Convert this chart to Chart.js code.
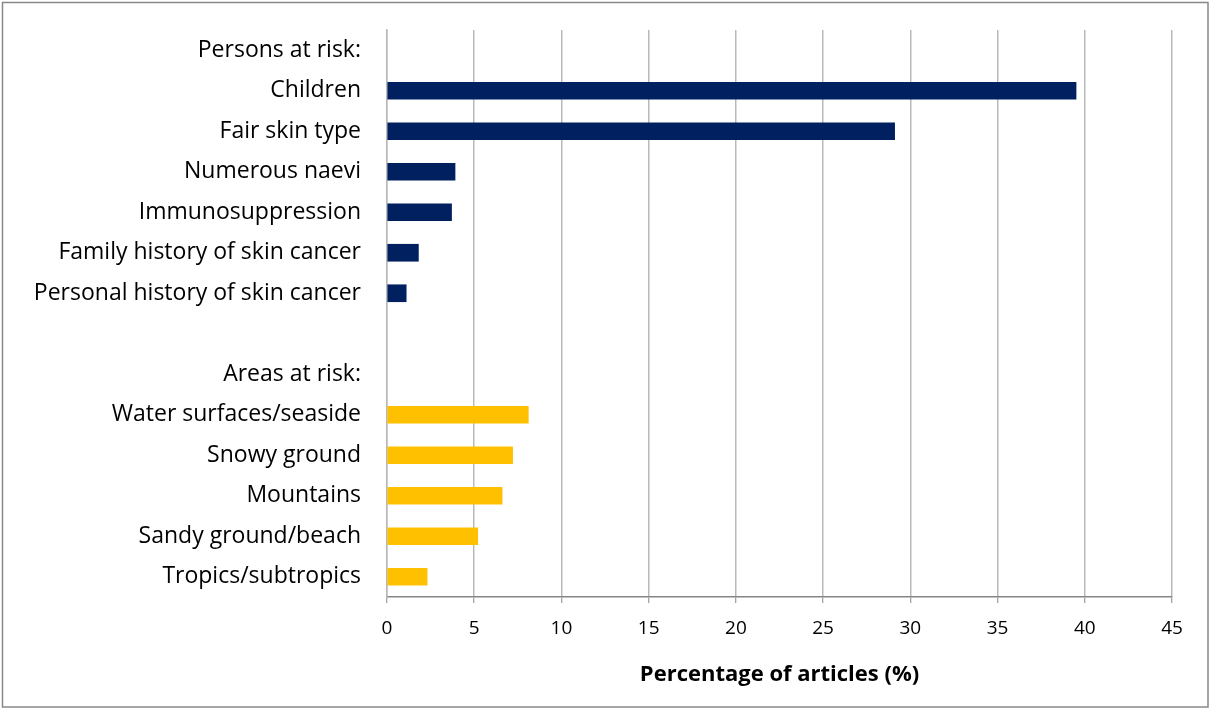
<!DOCTYPE html>
<html>
<head>
<meta charset="utf-8">
<script src="https://cdn.jsdelivr.net/npm/chart.js@4/dist/chart.umd.min.js"></script>
<style>
  html, body { margin: 0; padding: 0; background: #fff; }
  #wrap { position: relative; width: 1210px; height: 709px; }
</style>
</head>
<body>
<div id="wrap"><canvas id="riskChart"></canvas></div>
<script>
const personsLabels = [
  'Children',
  'Fair skin type',
  'Numerous naevi',
  'Immunosuppression',
  'Family history of skin cancer',
  'Personal history of skin cancer'
];
const personsValues = [39.5, 29.1, 3.9, 3.7, 1.8, 1.1];

const areasLabels = [
  'Water surfaces/seaside',
  'Snowy ground',
  'Mountains',
  'Sandy ground/beach',
  'Tropics/subtropics'
];
const areasValues = [8.1, 7.2, 6.6, 5.2, 2.3];

const xMin = 0, xMax = 45, xStep = 5;

// group headers sit on their own rows, with an empty row between groups
const labels = ['Persons at risk:', ...personsLabels, '', 'Areas at risk:', ...areasLabels];
const personsRow = [null, ...personsValues, null, null, ...areasLabels.map(() => null)];
const areasRow = [null, ...personsLabels.map(() => null), null, null, ...areasValues];

const frame = {
  id: 'frame',
  beforeDraw(chart) {
    const ctx = chart.ctx;
    ctx.save();
    ctx.fillStyle = '#fff';
    ctx.fillRect(0, 0, chart.width, chart.height);
    ctx.strokeStyle = '#888';
    ctx.lineWidth = 1.5;
    ctx.strokeRect(2.5, 2.5, chart.width - 4.5, chart.height - 4.5);
    ctx.restore();
  }
};

new Chart(document.getElementById('riskChart'), {
  type: 'bar',
  data: {
    labels: labels,
    datasets: [
      { label: 'Persons at risk', data: personsRow, backgroundColor: '#002060' },
      { label: 'Areas at risk', data: areasRow, backgroundColor: '#FFC000' }
    ]
  },
  options: {
    indexAxis: 'y',
    responsive: true,
    maintainAspectRatio: false,
    animation: false,
    layout: { padding: { top: 30, right: 38, left: 0, bottom: 0 } },
    datasets: { bar: { barThickness: 17, grouped: false } },
    plugins: { legend: { display: false }, tooltip: { enabled: false } },
    scales: {
      x: {
        type: 'linear',
        min: xMin,
        max: xMax,
        ticks: { stepSize: xStep, color: '#000', padding: 14, font: { family: 'Open Sans', size: 19 } },
        grid: { color: '#b9b9b9', lineWidth: 1.5, tickLength: 6, tickColor: '#868686', tickWidth: 1 },
        border: { color: '#868686', width: 1.5 },
        title: {
          display: true,
          text: 'Percentage of articles (%)',
          color: '#000',
          font: { family: 'Open Sans', size: 22, weight: 'bold' },
          padding: { top: 0, bottom: 21 }
        },
        afterFit(scale) { scale.height = 112; }
      },
      y: {
        // invisible tick marks give the gap between labels and axis
        grid: { display: true, drawOnChartArea: false, tickLength: 26, color: 'transparent' },
        border: { color: '#b9b9b9', width: 1.5 },
        ticks: { color: '#000', padding: 0, font: { family: 'Open Sans', size: 23 } },
        afterFit(scale) { scale.width = 387; }
      }
    }
  },
  plugins: [frame]
});
</script>
</body>
</html>
